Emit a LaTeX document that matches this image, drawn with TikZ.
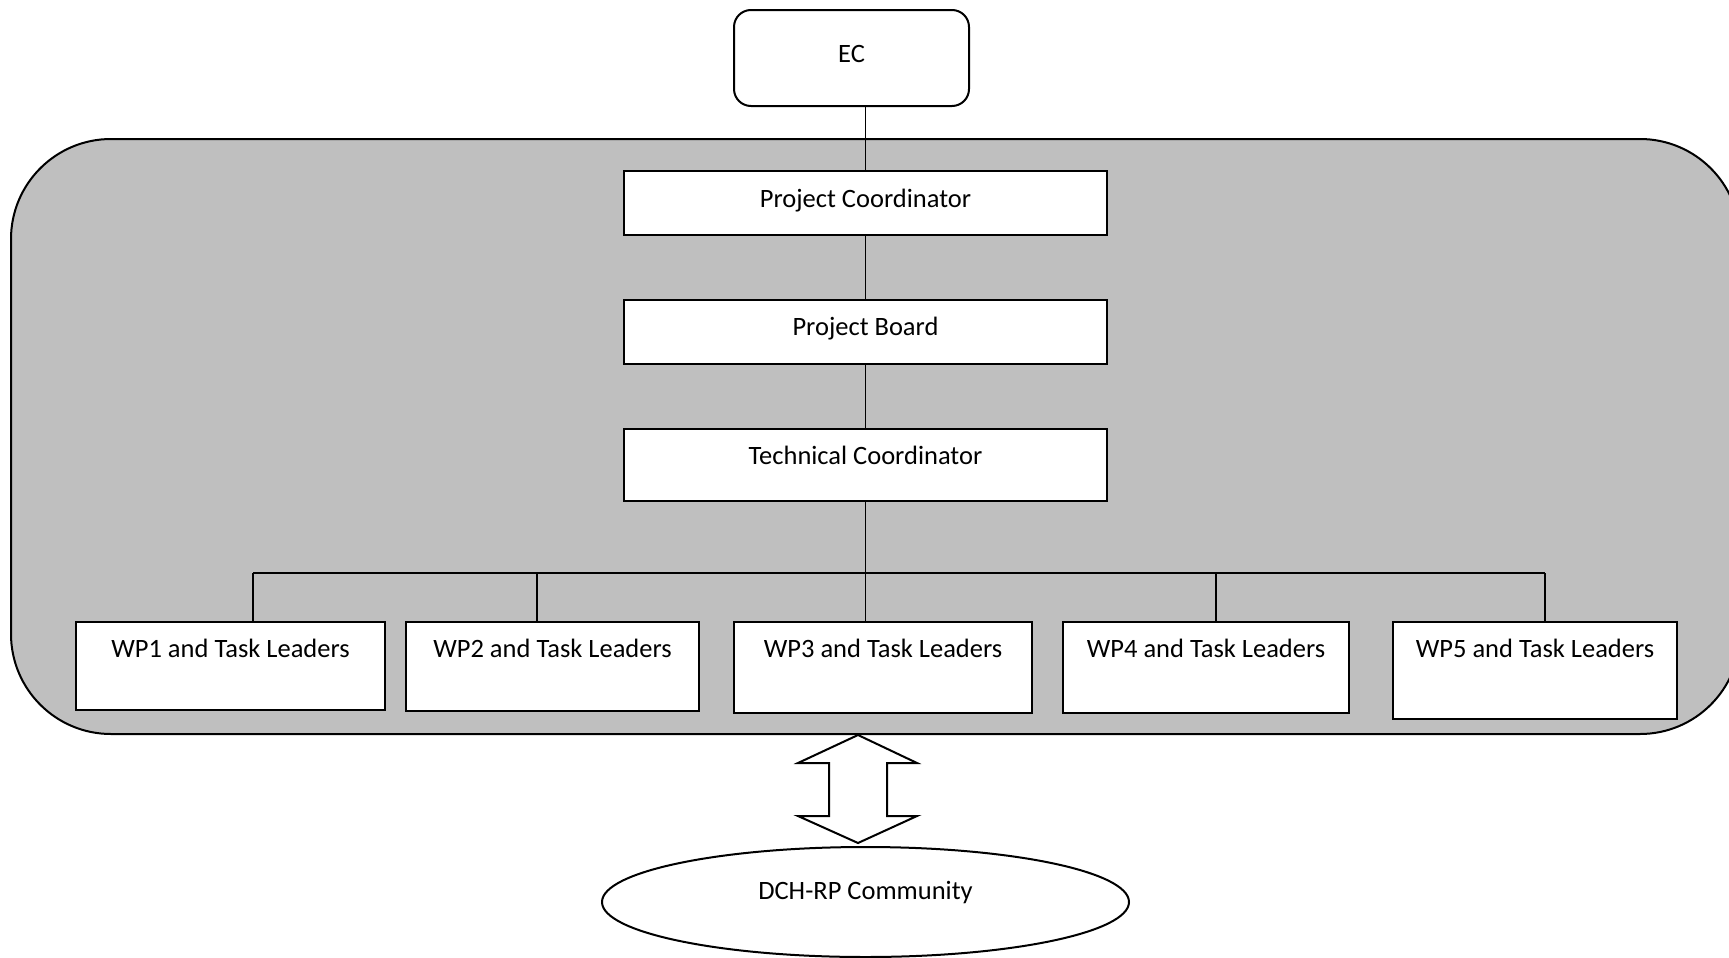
\documentclass[tikz,border=0pt]{standalone}
\usepackage{fontspec}
\setmainfont{Carlito}
\usetikzlibrary{shapes.geometric,calc}
\definecolor{panelgray}{RGB}{191,191,191}
\begin{document}
\begin{tikzpicture}[x=0.5pt,y=-0.5pt,
  every node/.style={font=\fontsize{13.25}{16}\selectfont},
  box/.style={draw=black,line width=1pt,fill=white,shape=rectangle,inner sep=0pt},
  ecbox/.style={box,rounded corners=8.5pt},
  panel/.style={draw=black,line width=1pt,fill=panelgray,rounded corners=50pt,inner sep=0pt},
  oval/.style={draw=black,line width=1pt,fill=white,shape=ellipse,inner sep=0pt},
  arrowshape/.style={draw=black,line width=1pt,fill=white,line join=miter},
  link/.style={draw=black,line width=0.9pt},
  lbl/.style={anchor=base,inner sep=0pt},
]
\useasboundingbox (0,0) rectangle (1729,958);
\clip (0,0) rectangle (1729,958);
% container
\node[panel,minimum width=864.5pt,minimum height=297.5pt] (team) at (875.5,436.5) {};
% EC
\node[ecbox,minimum width=117.5pt,minimum height=48pt] (ec) at (851.5,58) {};
\node[lbl] (ect) at (851.5,62) {EC};
% hierarchy boxes
\node[box,minimum width=241.5pt,minimum height=32pt] (pc) at (865.5,203) {};
\node[lbl] (pct) at (865.5,207) {Project Coordinator};
\node[box,minimum width=241.5pt,minimum height=32pt] (pb) at (865.5,332) {};
\node[lbl] (pbt) at (865.5,335) {Project Board};
\node[box,minimum width=241.5pt,minimum height=36pt] (tc) at (865.5,465) {};
\node[lbl] (tct) at (865.5,464) {Technical Coordinator};
% work packages
\node[box,minimum width=154.5pt,minimum height=44pt] (wp1) at (230.5,666) {};
\node[lbl] (wp1t) at (230.5,657) {WP1 and Task Leaders};
\node[box,minimum width=146.5pt,minimum height=44.5pt] (wp2) at (552.5,666.5) {};
\node[lbl] (wp2t) at (552.5,657) {WP2 and Task Leaders};
\node[box,minimum width=149pt,minimum height=45.5pt] (wp3) at (883,667.5) {};
\node[lbl] (wp3t) at (883,657) {WP3 and Task Leaders};
\node[box,minimum width=143pt,minimum height=45.5pt] (wp4) at (1206,667.5) {};
\node[lbl] (wp4t) at (1206,657) {WP4 and Task Leaders};
\node[box,minimum width=142pt,minimum height=48.5pt] (wp5) at (1535,670.5) {};
\node[lbl] (wp5t) at (1535,657) {WP5 and Task Leaders};
% connectors
\draw[link] (ec.south -| pc.north) -- (pc.north);
\draw[link] (pc) -- (pb);
\draw[link] (pb) -- (tc);
\coordinate (d1) at (253,573);
\coordinate (d2) at (537,573);
\coordinate (d3) at (865.5,573);
\coordinate (d4) at (1216,573);
\coordinate (d5) at (1545,573);
\draw[link] (tc.south) -- (d3);
\draw[link] (d1) -- (d5);
\draw[link] (d1) -- (d1 |- wp1.north);
\draw[link] (d2) -- (d2 |- wp2.north);
\draw[link] (d3) -- (d3 |- wp3.north);
\draw[link] (d4) -- (d4 |- wp4.north);
\draw[link] (d5) -- (d5 |- wp5.north);
% community
\node[oval,minimum width=263.5pt,minimum height=55pt] (dch) at (865.5,902) {};
\node[lbl] (dcht) at (865.5,899) {DCH-RP Community};
% double arrow
\draw[arrowshape] (858,735) -- (917,763) -- (887,763) -- (887,816) -- (917,816) -- (858,843)
  -- (798,816) -- (829,816) -- (829,763) -- (798,763) -- cycle;
\end{tikzpicture}
\end{document}
